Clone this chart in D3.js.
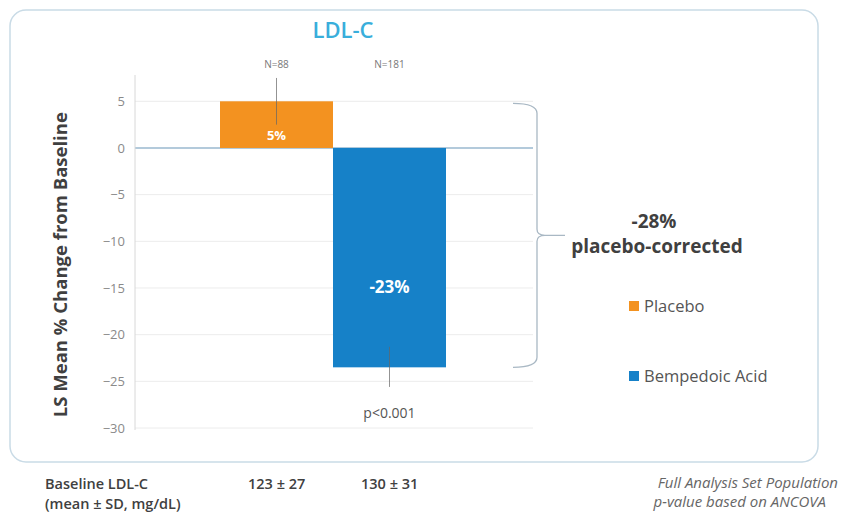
<!DOCTYPE html>
<html>
<head>
<meta charset="utf-8">
<script src="https://cdn.jsdelivr.net/npm/d3@7"></script>
<style>
  body { margin: 0; background: #fff; }
  text { font-family: "Open Sans", "Noto Sans", sans-serif; }
</style>
</head>
<body>
<div id="chart"></div>
<script>
var groups = ["Placebo", "Bempedoic Acid"];
var values = [5.0, -23.5];
var errLow = [2.5, -21.3];
var errHigh = [7.5, -25.6];
var nLabels = ["N=88", "N=181"];
var barLabels = ["5%", "-23%"];
var baseline = ["123 ± 27", "130 ± 31"];
var colors = ["#f39220", "#1681c8"];
var yTicks = [5, 0, -5, -10, -15, -20, -25, -30];

var W = 843, H = 514;
var svg = d3.select("#chart").append("svg")
  .attr("width", W).attr("height", H);

// frame
svg.append("rect")
  .attr("x", 10).attr("y", 10).attr("width", 808).attr("height", 452)
  .attr("rx", 16).attr("fill", "#fff")
  .attr("stroke", "#c9dbe6").attr("stroke-width", 1.5);

var x = d3.scaleBand().domain(groups).range([220, 446]).padding(0);
var y = d3.scaleLinear().domain([-30, 5]).range([428, 101.3]);

// gridlines
svg.append("g").selectAll("line").data(yTicks).enter().append("line")
  .attr("x1", 135).attr("x2", 533)
  .attr("y1", function(d){ return y(d); }).attr("y2", function(d){ return y(d); })
  .attr("stroke", function(d){ return d === 0 ? "#b3cadb" : "#ececec"; })
  .attr("stroke-width", function(d){ return d === 0 ? 2 : 1; });

// y axis
var yAxis = d3.axisLeft(y).tickValues(yTicks).tickSize(0).tickPadding(10);
var gy = svg.append("g").attr("transform", "translate(135,0)").call(yAxis);
gy.select(".domain").remove();
gy.selectAll("text").attr("fill", "#8a8a8a").style("font-size", "13px");
svg.append("line").attr("x1", 135).attr("x2", 135).attr("y1", 75).attr("y2", 430)
  .attr("stroke", "#d8d8d8");

svg.append("text")
  .attr("transform", "translate(67," + y(-12.5) + ") rotate(-90)")
  .attr("text-anchor", "middle")
  .attr("fill", "#404040").style("font-size", "18.5px").style("font-weight", "bold")
  .text("LS Mean % Change from Baseline");

// bars
svg.append("g").selectAll("rect").data(groups).enter().append("rect")
  .attr("x", function(d){ return x(d); })
  .attr("width", x.bandwidth())
  .attr("y", function(d, i){ return y(Math.max(0, values[i])); })
  .attr("height", function(d, i){ return Math.abs(y(values[i]) - y(0)); })
  .attr("fill", function(d, i){ return colors[i]; });

// error bars
svg.append("g").selectAll("line").data(groups).enter().append("line")
  .attr("x1", function(d){ return x(d) + x.bandwidth() / 2; })
  .attr("x2", function(d){ return x(d) + x.bandwidth() / 2; })
  .attr("y1", function(d, i){ return y(errLow[i]); })
  .attr("y2", function(d, i){ return y(errHigh[i]); })
  .attr("stroke", "#666").attr("stroke-width", 1).attr("opacity", 0.7);

// N labels
svg.append("g").selectAll("text").data(groups).enter().append("text")
  .attr("x", function(d){ return x(d) + x.bandwidth() / 2; })
  .attr("y", 68)
  .attr("text-anchor", "middle").attr("fill", "#777").style("font-size", "10px")
  .text(function(d, i){ return nLabels[i]; });

// bar labels
svg.append("text")
  .attr("x", x(groups[0]) + x.bandwidth() / 2).attr("y", 140)
  .attr("text-anchor", "middle").attr("fill", "#fff")
  .style("font-size", "13px").style("font-weight", "bold").text(barLabels[0]);
svg.append("text")
  .attr("x", x(groups[1]) + x.bandwidth() / 2).attr("y", 293)
  .attr("text-anchor", "middle").attr("fill", "#fff")
  .style("font-size", "17px").style("font-weight", "bold").text(barLabels[1]);

svg.append("text")
  .attr("x", x(groups[1]) + x.bandwidth() / 2).attr("y", 418)
  .attr("text-anchor", "middle").attr("fill", "#555").style("font-size", "14px")
  .text("p<0.001");

// title
svg.append("text").attr("x", 343).attr("y", 38).attr("text-anchor", "middle")
  .attr("fill", "#39aedb").style("font-size", "22px").style("font-weight", "600")
  .text("LDL-C");

// bracket
var bx = 537, bTop = y(5) + 2, bBot = y(values[1]), bMid = (bTop + bBot) / 2;
svg.append("path")
  .attr("d", "M513," + bTop + " Q" + bx + "," + bTop + " " + bx + "," + (bTop + 10) +
    " L" + bx + "," + (bMid - 6) + " Q" + bx + "," + bMid + " " + (bx + 8) + "," + bMid +
    " L565," + bMid +
    " M" + (bx + 8) + "," + bMid + " Q" + bx + "," + bMid + " " + bx + "," + (bMid + 6) +
    " L" + bx + "," + (bBot - 10) + " Q" + bx + "," + bBot + " 513," + bBot)
  .attr("fill", "none").attr("stroke", "#a9b8c4").attr("stroke-width", 1.3);

svg.append("text").attr("x", 654).attr("y", 228).attr("text-anchor", "middle")
  .attr("fill", "#404040").style("font-size", "19px").style("font-weight", "bold").text("-28%");
svg.append("text").attr("x", 657).attr("y", 253).attr("text-anchor", "middle")
  .attr("fill", "#404040").style("font-size", "19px").style("font-weight", "bold").text("placebo-corrected");

// legend
var legY = [306, 376];
var leg = svg.append("g").selectAll("g").data(groups).enter().append("g")
  .attr("transform", function(d, i){ return "translate(629," + legY[i] + ")"; });
leg.append("rect").attr("x", 0).attr("y", -5).attr("width", 10).attr("height", 10)
  .attr("fill", function(d, i){ return colors[i]; });
leg.append("text").attr("x", 15).attr("y", 6).attr("fill", "#555")
  .style("font-size", "16.5px").text(function(d){ return d; });

// baseline row
svg.append("text").attr("x", 45).attr("y", 489).attr("fill", "#404040")
  .style("font-size", "14.5px").style("font-weight", "600").text("Baseline LDL-C");
svg.append("text").attr("x", 45).attr("y", 509).attr("fill", "#404040")
  .style("font-size", "14.5px").style("font-weight", "600").text("(mean ± SD, mg/dL)");
var bxPos = [248, 361];
svg.append("g").selectAll("text").data(baseline).enter().append("text")
  .attr("x", function(d, i){ return bxPos[i]; }).attr("y", 489)
  .attr("fill", "#404040")
  .style("font-size", "14.5px").style("font-weight", "600").text(function(d){ return d; });

svg.append("text").attr("x", 838).attr("y", 488).attr("text-anchor", "end")
  .attr("fill", "#666").style("font-size", "15px").style("font-style", "italic")
  .text("Full Analysis Set Population");
svg.append("text").attr("x", 826).attr("y", 507).attr("text-anchor", "end")
  .attr("fill", "#666").style("font-size", "15px").style("font-style", "italic")
  .text("p-value based on ANCOVA");
</script>
</body>
</html>
